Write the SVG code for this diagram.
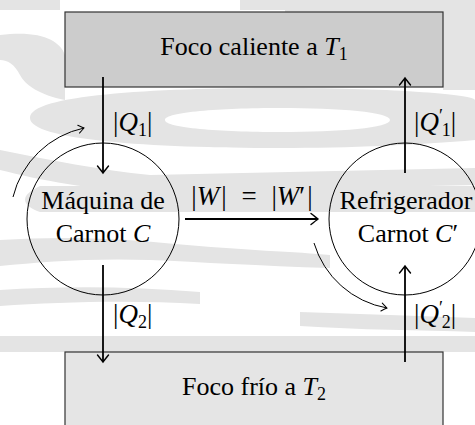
<svg xmlns="http://www.w3.org/2000/svg" width="475" height="425" viewBox="0 0 475 425">
<style>
.t{font-family:"Liberation Serif","Times New Roman",serif;font-size:26px;fill:#000}
.m{font-family:"Liberation Serif","Times New Roman",serif;font-size:27px;fill:#000}
.i{font-style:italic}
.s{font-size:18px}
.box{stroke:#333;stroke-width:1.2}
.main{stroke:#000;stroke-width:1.8;fill:none}
.thin{stroke:#000;stroke-width:1;fill:none}
.wm{fill:#e4e4e4}
</style>
<defs>
<marker id="ah" markerUnits="userSpaceOnUse" markerWidth="16" markerHeight="16" refX="0" refY="0" viewBox="-9 -8 10 16" orient="auto">
<path d="M-7,-5.5 Q-2,-1.5 0,0 Q-2,1.5 -7,5.5" fill="none" stroke="#000" stroke-width="1.4" stroke-linecap="round"/>
</marker>
<marker id="ahs" markerUnits="userSpaceOnUse" markerWidth="12" markerHeight="12" refX="0" refY="0" viewBox="-7 -6 8 12" orient="auto">
<path d="M-5.5,-4 Q-1.5,-1 0,0 Q-1.5,1 -5.5,4" fill="none" stroke="#000" stroke-width="1" stroke-linecap="round"/>
</marker>
</defs>
<g id="watermark">
<path class="wm" d="M0,0 H60 V10 H0 Z"/>
<path class="wm" d="M240,0 H475 V22 C400,14 330,12 285,14 V10 H240 Z"/>
<path class="wm" d="M0,35 C40,30 60,40 65,55 V100 C40,95 25,85 20,75 C15,65 8,60 0,60 Z"/>
<path class="wm" d="M443,15 H475 V90 H443 Z"/>
<path class="wm" fill-rule="evenodd" d="M30,118 C30,95 150,88 280,88 C400,88 475,95 475,100 V140 C420,145 350,148 280,148 C150,148 30,140 30,118 Z M165,120 C165,112 220,108 280,108 C340,108 390,112 390,120 C390,128 340,132 280,132 C220,132 165,128 165,120 Z"/>
<path class="wm" d="M0,150 C50,160 100,170 150,175 L475,168 V185 L150,192 C90,190 40,180 0,170 Z"/>
<path class="wm" d="M40,186 H475 V212 H40 C20,205 20,195 40,186 Z"/>
<path class="wm" d="M0,240 C60,236 120,238 175,244 C240,250 300,252 330,255 V268 C260,266 200,262 150,260 C90,258 40,262 0,266 Z"/>
<path class="wm" d="M0,290 C60,286 130,286 200,292 V304 C130,300 60,302 0,306 Z"/>
<path class="wm" d="M300,312 C360,314 420,316 475,318 V332 C420,330 360,330 300,326 Z"/>
<path class="wm" d="M0,336 H475 V352 H0 Z"/>
</g>
<g id="hot">
<rect class="box" x="65" y="12" width="378" height="75" fill="#cccccc"/>
<text class="t" x="254" y="55" text-anchor="middle">Foco caliente a <tspan class="i">T</tspan><tspan class="s" dy="5">1</tspan></text>
</g>
<g id="cold">
<rect class="box" x="65" y="352" width="378" height="90" fill="#e5e5e5"/>
<text class="t" x="254" y="395" text-anchor="middle">Foco frío a <tspan class="i">T</tspan><tspan class="s" dy="5">2</tspan></text>
</g>
<g id="engine">
<circle class="thin" cx="103" cy="219" r="76"/>
<text class="t" x="103" y="209" text-anchor="middle">Máquina de</text>
<text class="t" x="103" y="242" text-anchor="middle">Carnot <tspan class="i">C</tspan></text>
</g>
<g id="fridge">
<circle class="thin" cx="405" cy="219" r="76"/>
<text class="t" x="406" y="209" text-anchor="middle">Refrigerador</text>
<text class="t" x="408" y="242" text-anchor="middle">Carnot <tspan class="i">C</tspan>′</text>
</g>
<g id="connectors">
<path class="main" d="M103,77 V173" marker-end="url(#ah)"/>
<path class="main" d="M103,265 V362" marker-end="url(#ah)"/>
<path class="main" d="M405,362 V266" marker-end="url(#ah)"/>
<path class="main" d="M405,173 V78" marker-end="url(#ah)"/>
<path class="main" d="M185,219 H318" marker-end="url(#ah)"/>
<path class="thin" d="M13,197 A93,93 0 0,1 84,128" marker-end="url(#ahs)"/>
<path class="thin" d="M314,243 A93,93 0 0,0 387,308" marker-end="url(#ahs)"/>
<text class="m" x="113" y="131">|<tspan class="i">Q</tspan><tspan class="s" dy="5">1</tspan><tspan dy="-5">|</tspan></text>
<text class="m" x="414" y="131">|<tspan class="i">Q</tspan><tspan class="s" dy="-9">′</tspan><tspan class="s" dx="-1" dy="14">1</tspan><tspan dy="-5">|</tspan></text>
<text class="m" x="113" y="323">|<tspan class="i">Q</tspan><tspan class="s" dy="5">2</tspan><tspan dy="-5">|</tspan></text>
<text class="m" x="414" y="323">|<tspan class="i">Q</tspan><tspan class="s" dy="-9">′</tspan><tspan class="s" dx="-1" dy="14">2</tspan><tspan dy="-5">|</tspan></text>
<text class="m" x="252" y="205" text-anchor="middle" word-spacing="8">|<tspan class="i">W</tspan><tspan dx="2">|</tspan> = |<tspan class="i">W</tspan>′<tspan dx="2">|</tspan></text>
</g>
</svg>
